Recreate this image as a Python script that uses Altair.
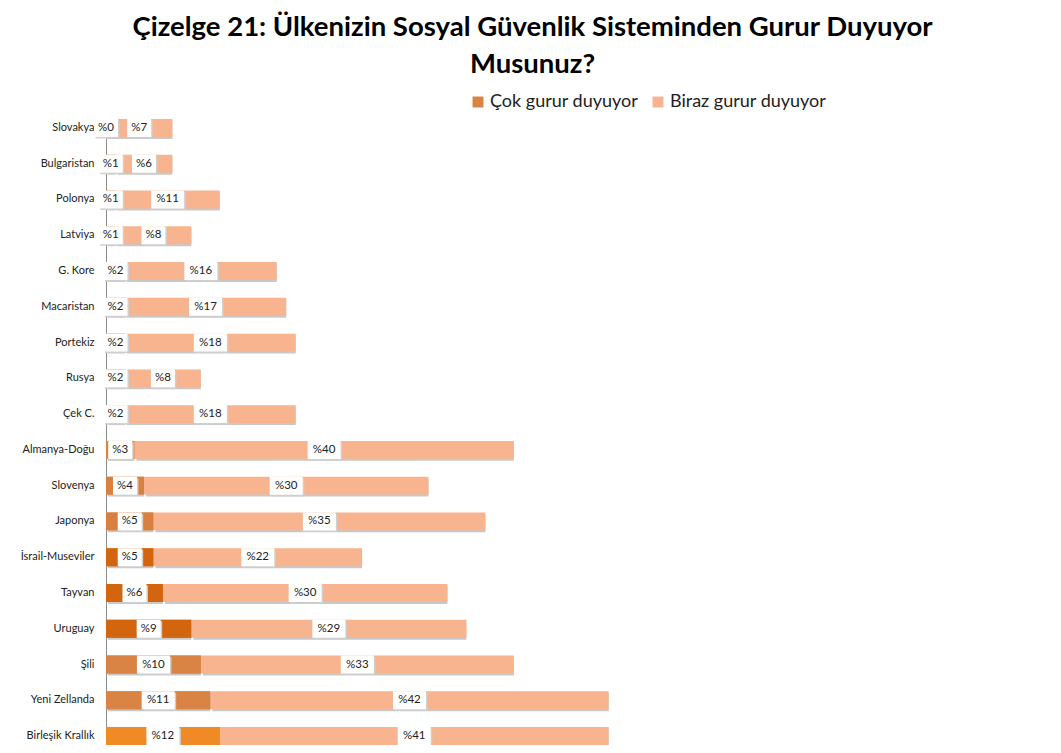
import altair as alt
import pandas as pd

countries = ["Slovakya", "Bulgaristan", "Polonya", "Latviya", "G. Kore", "Macaristan",
             "Portekiz", "Rusya", "Çek C.", "Almanya-Doğu", "Slovenya", "Japonya",
             "İsrail-Museviler", "Tayvan", "Uruguay", "Şili", "Yeni Zellanda", "Birleşik Krallık"]
cok = [0, 1, 1, 1, 2, 2, 2, 2, 2, 3, 4, 5, 5, 6, 9, 10, 11, 12]
biraz = [7, 6, 11, 8, 16, 17, 18, 8, 18, 40, 30, 35, 22, 30, 29, 33, 42, 41]
series_names = ["Çok gurur duyuyor", "Biraz gurur duyuyor"]

# per-point fill of the first segment (as in the original)
cok_colors = ["#d98445", "#d98445", "#d98445", "#d98445", "#d98445", "#d98445",
              "#d98445", "#d98445", "#d98445", "#d98445", "#d8803f", "#d8803f",
              "#d4650f", "#d4650f", "#d4650f", "#d98445", "#d98445", "#f08a24"]
series_colors = ["#d98445", "#f7b48e"]

rows = []
for c, a, b, f in zip(countries, cok, biraz, cok_colors):
    rows.append(dict(country=c, series=series_names[0], start=0, end=a,
                     mid=a / 2, label=f"%{a}", fill=f))
    rows.append(dict(country=c, series=series_names[1], start=a, end=a + b,
                     mid=a + b / 2, label=f"%{b}", fill=series_colors[1]))
df = pd.DataFrame(rows)
df["nch"] = df["label"].str.len()

W, H = 901, 626
xs = alt.Scale(domain=[0, 95], nice=False, zero=True)
ys = alt.Scale(domain=countries, paddingInner=0.5, paddingOuter=0)

X = alt.X("start:Q", scale=xs, axis=None)
Y = alt.Y("country:N", sort=countries, scale=ys,
          axis=alt.Axis(title=None, ticks=False, labelPadding=12, labelFont="Lato",
                        labelFontSize=11, labelColor="#222222", domainColor="#8c8c8c",
                        domainWidth=1, grid=False))

base = alt.Chart(df)

shadow = base.mark_bar(color="#c8c8c8", xOffset=2, yOffset=2).encode(
    x=X, x2="end:Q", y=Y)

bars = base.mark_bar().encode(
    x=X, x2="end:Q", y=Y,
    color=alt.Color("series:N",
                    scale=alt.Scale(domain=series_names, range=series_colors),
                    legend=alt.Legend(orient="none", legendX=363, legendY=-26,
                                      direction="horizontal", title=None,
                                      symbolType="square", symbolSize=120,
                                      symbolStrokeWidth=0, labelFont="Lato",
                                      labelFontSize=18, labelColor="#222222",
                                      labelOffset=3, columnPadding=10, padding=0)))

cokbars = base.transform_filter(alt.datum.series == series_names[0]).mark_bar().encode(
    x=X, x2="end:Q", y=Y, color=alt.Color("fill:N", scale=None))

def boxes(n, width):
    d = base.transform_filter(alt.datum.nch == n)
    sh = d.mark_tick(color="#cfcfcf", thickness=width, size=18, opacity=1,
                     xOffset=1.5, yOffset=1.5).encode(
        x=alt.X("mid:Q", scale=xs, axis=None), y=Y)
    bx = d.mark_tick(color="white", thickness=width, size=18, opacity=1).encode(
        x=alt.X("mid:Q", scale=xs, axis=None), y=Y)
    return sh + bx

texts = base.mark_text(font="Lato", fontSize=11.5, color="#222222").encode(
    x=alt.X("mid:Q", scale=xs, axis=None), y=Y, text="label:N")

chart = alt.layer(shadow, bars, cokbars, boxes(2, 24), boxes(3, 33), texts).properties(
    width=W, height=H,
    autosize=alt.AutoSizeParams(type="none"),
    padding={"left": 98, "top": 111, "right": 20, "bottom": 0},
    title=alt.Title(["Çizelge 21: Ülkenizin Sosyal Güvenlik Sisteminden Gurur Duyuyor", "Musunuz?"],
                    font="Lato", fontSize=27.5, fontWeight="bold", color="#000000",
                    lineHeight=37, anchor="middle", dx=-24, offset=15)
).configure(background="white").configure_view(stroke=None)

chart.save("out.html", embed_options={"renderer": "svg", "actions": False})
